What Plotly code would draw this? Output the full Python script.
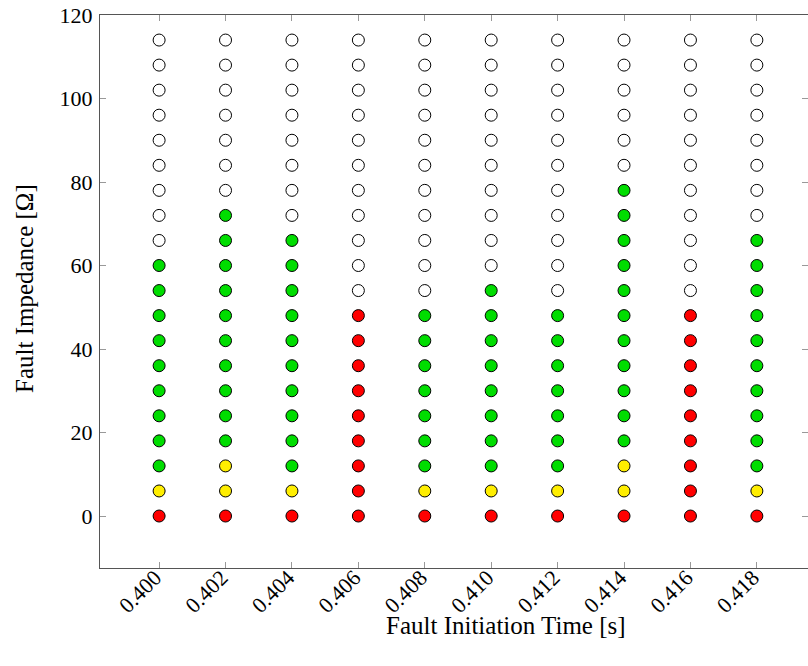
import plotly.graph_objects as go

# Fault initiation times [s]
times = [0.400, 0.402, 0.404, 0.406, 0.408, 0.410, 0.412, 0.414, 0.416, 0.418]
# Fault impedances [Ohm]
impedances = [0, 6, 12, 18, 24, 30, 36, 42, 48, 54, 60, 66, 72, 78, 84, 90, 96, 102, 108, 114]
# Outcome per time column, one letter per impedance (bottom to top)
# R = red, Y = yellow, G = green, W = white
status = [
    "RYGGGGGGGGGWWWWWWWWW",  # 0.400
    "RYYGGGGGGGGGGWWWWWWW",  # 0.402
    "RYGGGGGGGGGGWWWWWWWW",  # 0.404
    "RRRRRRRRRWWWWWWWWWWW",  # 0.406
    "RYGGGGGGGWWWWWWWWWWW",  # 0.408
    "RYGGGGGGGGWWWWWWWWWW",  # 0.410
    "RYGGGGGGGWWWWWWWWWWW",  # 0.412
    "RYYGGGGGGGGGGGWWWWWW",  # 0.414
    "RRRRRRRRRWWWWWWWWWWW",  # 0.416
    "RYGGGGGGGGGGWWWWWWWW",  # 0.418
]
x_ticks = times
x_tick_labels = ["0.400", "0.402", "0.404", "0.406", "0.408", "0.410", "0.412", "0.414", "0.416", "0.418"]
y_ticks = [0, 20, 40, 60, 80, 100, 120]

color_map = {"R": "#FF0000", "Y": "#FFEE00", "G": "#00DD00", "W": "#FFFFFF"}

xs, ys, cs = [], [], []
for t, col in zip(times, status):
    for z, s in zip(impedances, col):
        xs.append(t)
        ys.append(z)
        cs.append(color_map[s])

fig = go.Figure(go.Scatter(
    x=xs, y=ys, mode="markers",
    marker=dict(size=12, color=cs, line=dict(color="black", width=1)),
    showlegend=False, hoverinfo="x+y",
))

FAMILY = "Liberation Serif, serif"
tick_font = dict(family=FAMILY, size=22, color="black")
title_font = dict(family=FAMILY, size=25, color="black")
axis_common = dict(
    showgrid=False, zeroline=False, showline=True, linecolor="#555555", linewidth=1,
    mirror="ticks", ticks="inside", ticklen=6, tickcolor="#999999", tickwidth=1,
    tickfont=tick_font, automargin=False,
)
fig.update_layout(
    width=808, height=666,
    margin=dict(l=100, r=0, t=15, b=98),
    plot_bgcolor="white", paper_bgcolor="white",
    font=tick_font,
    xaxis=dict(range=[0.39822, 0.41954], tickvals=x_ticks, ticktext=x_tick_labels,
               tickangle=-45, ticklabelstandoff=-13, ticklabelshift=-4, **axis_common),
    yaxis=dict(range=[-12.45, 120], tickvals=y_ticks, ticklabelstandoff=2, **axis_common),
    annotations=[
        dict(text="Fault Initiation Time [s]", xref="paper", yref="paper",
             x=(506 - 100) / 708, y=(568 - 625) / 553, xanchor="center", yanchor="middle",
             showarrow=False, font=title_font),
        dict(text="Fault Impedance [Ω]", xref="paper", yref="paper",
             x=(24 - 100) / 708, y=(568 - 289) / 553, xanchor="center", yanchor="middle",
             textangle=-90, showarrow=False, font=title_font),
    ],
)
fig.write_html(
    "out.html",
    config={"displayModeBar": False},
    post_script="document.body.style.margin='0';document.body.style.overflow='hidden';",
)
